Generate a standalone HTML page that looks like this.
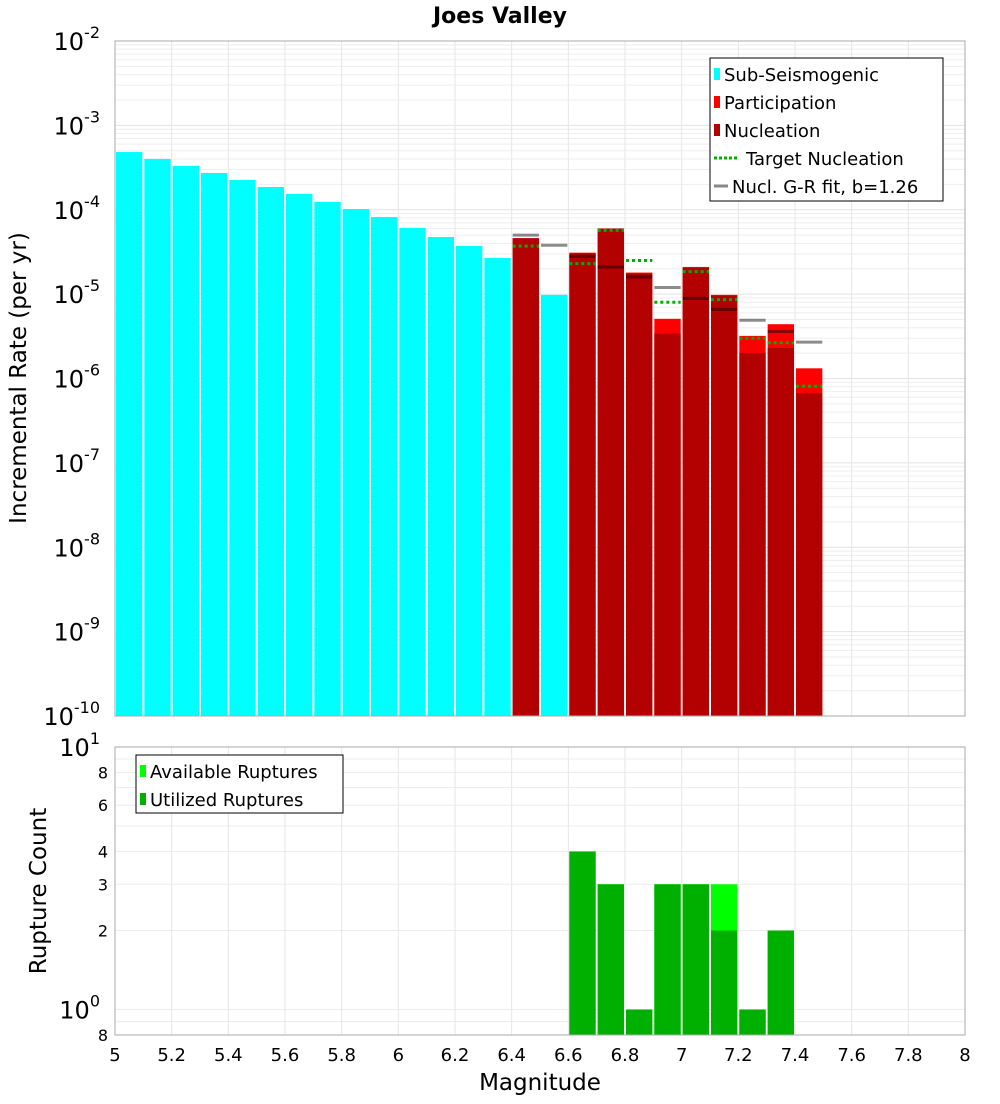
<!DOCTYPE html>
<html><head><meta charset="utf-8">
<style>
body{margin:0;background:#fff;font-family:"DejaVu Sans","Liberation Sans",sans-serif;}
</style></head>
<body>
<svg id="chart" width="1000" height="1100" xmlns="http://www.w3.org/2000/svg" font-family="DejaVu Sans, Liberation Sans, sans-serif">
<text x="500" y="23" text-anchor="middle" font-size="22" font-weight="bold">Joes Valley</text>
<g id="top"></g>
<g id="bot"></g>
<text transform="translate(26,378) rotate(-90)" text-anchor="middle" font-size="23">Incremental Rate (per yr)</text>
<text transform="translate(46,891) rotate(-90)" text-anchor="middle" font-size="23">Rupture Count</text>
<text x="540" y="1090" text-anchor="middle" font-size="23">Magnitude</text>
</svg>
<script>
const subMags=[5.05,5.15,5.25,5.35,5.45,5.55,5.65,5.75,5.85,5.95,6.05,6.15,6.25,6.35,6.55];
const subRates=[4.83e-4,4.0e-4,3.3e-4,2.73e-4,2.25e-4,1.86e-4,1.54e-4,1.24e-4,1.02e-4,8.2e-5,6.1e-5,4.75e-5,3.72e-5,2.68e-5,9.8e-6];
const supMags=[6.45,6.65,6.75,6.85,6.95,7.05,7.15,7.25,7.35,7.45];
const partRates=[4.6e-5,3.1e-5,6.0e-5,1.8e-5,5.1e-6,2.1e-5,9.8e-6,3.2e-6,4.4e-6,1.32e-6];
const nuclRates=[4.6e-5,3.05e-5,6.0e-5,1.75e-5,3.4e-6,2.05e-5,9.6e-6,2.0e-6,2.3e-6,6.7e-7];
const targetMags=[6.45,6.65,6.75,6.85,6.95,7.05,7.15,7.25,7.35,7.45];
const targetRates=[3.7e-5,2.3e-5,5.7e-5,2.5e-5,8.0e-6,1.85e-5,8.6e-6,3.0e-6,2.65e-6,8.1e-7];
const grMags=[6.45,6.55,6.65,6.75,6.85,6.95,7.05,7.15,7.25,7.35,7.45];
const grRates=[5.0e-5,3.8e-5,2.8e-5,2.1e-5,1.6e-5,1.2e-5,8.9e-6,6.6e-6,4.9e-6,3.6e-6,2.7e-6];
const cntMags=[6.65,6.75,6.85,6.95,7.05,7.15,7.25,7.35];
const availCounts=[4,3,1,3,3,3,1,2];
const usedCounts=[4,3,1,3,3,2,1,2];
const xTicks=[5,5.2,5.4,5.6,5.8,6,6.2,6.4,6.6,6.8,7,7.2,7.4,7.6,7.8,8];
const xTickLabels=["5","5.2","5.4","5.6","5.8","6","6.2","6.4","6.6","6.8","7","7.2","7.4","7.6","7.8","8"];
const topExps=[-2,-3,-4,-5,-6,-7,-8,-9,-10];
const botTicks=[10,8,6,4,3,2,1,0.8];
const botTickLabels=["10^1","8","6","4","3","2","10^0","8"];

const NS="http://www.w3.org/2000/svg";
const L=115,R=965,T1=41,B1=716,T2=747,B2=1035;
const X=m=>L+(m-5)/3*(R-L);
const Y1=v=>T1+(-2-Math.log10(v))/8*(B1-T1);
const Y2=v=>B2-(Math.log10(v)-Math.log10(0.8))/(1-Math.log10(0.8))*(B2-T2);
function mk(p,tag,at){const e=document.createElementNS(NS,tag);for(const k in at)e.setAttribute(k,at[k]);p.appendChild(e);return e;}
const gTop=document.getElementById('top'),gBot=document.getElementById('bot');
const svgRoot=document.getElementById('chart');
const bw=(R-L)/30;
for(let d=-10;d<-2;d++)for(let k=1;k<10;k++){const y=Y1(k*Math.pow(10,d));const l=mk(gTop,'line',{x1:L,x2:R,y1:y,y2:y,stroke:k==1?'#e2e2e2':'#eeeeee','stroke-width':1});

}
[0.8,0.9,1,2,3,4,5,6,7,8,9,10].forEach(v=>{const y=Y2(v);const l=mk(gBot,'line',{x1:L,x2:R,y1:y,y2:y,stroke:'#ececec'});

});
xTicks.forEach((t,i)=>{[[gTop,T1,B1],[gBot,T2,B2]].forEach(([g,a,b])=>{const l=mk(g,'line',{x1:X(t),x2:X(t),y1:a,y2:b,stroke:'#e6e6e6'});

});
 const tx=mk(svgRoot,'text',{x:X(t),y:1061,'text-anchor':'middle','font-size':18});tx.textContent=xTickLabels[i];
 
 });
function bar(g,m,y,base,fill,name){const r=mk(g,'rect',{x:X(m)-bw/2+1,y:y,width:bw-2,height:Math.max(0,base-y),fill:fill});

}
subMags.forEach((m,i)=>bar(gTop,m,Y1(subRates[i]),B1,'#00ffff','sub-seismogenic-bar'));
supMags.forEach((m,i)=>bar(gTop,m,Y1(partRates[i]),B1,'#ff0000','participation-bar'));
supMags.forEach((m,i)=>bar(gTop,m,Y1(nuclRates[i]),B1,'#b30000','nucleation-bar'));
grMags.forEach((m,i)=>{const y=Y1(grRates[i]);const l=mk(gTop,'line',{x1:X(m)-bw/2+1,x2:X(m)+bw/2-1,y1:y,y2:y,stroke:'#000','stroke-opacity':0.45,'stroke-width':3});

});
targetMags.forEach((m,i)=>{const y=Y1(targetRates[i]);const l=mk(gTop,'line',{x1:X(m)-bw/2+1,x2:X(m)+bw/2-1,y1:y,y2:y,stroke:'#00b000','stroke-width':3,'stroke-dasharray':'3,3'});

});
cntMags.forEach((m,i)=>bar(gBot,m,Y2(availCounts[i]),B2,'#00ff00','available-ruptures-bar'));
cntMags.forEach((m,i)=>bar(gBot,m,Y2(usedCounts[i]),B2,'#00b000','utilized-ruptures-bar'));
[[gTop,T1,B1],[gBot,T2,B2]].forEach(([g,a,b])=>{const r=mk(g,'rect',{x:L,y:a,width:R-L,height:b-a,fill:'none',stroke:'#aaaaaa'});

});
function sup(g,x,y,base,exp){const t=mk(g,'text',{x:x,y:y,'text-anchor':'end','font-size':24});


t.textContent=base;const s=mk(t,'tspan',{dy:-12,'font-size':16});s.textContent=exp;}
topExps.forEach(e=>sup(gTop,100,Y1(Math.pow(10,e))+9,'10',String(e)));
botTicks.forEach((v,i)=>{const lab=botTickLabels[i];if(lab.includes('^')){const p=lab.split('^');sup(gBot,100,Y2(v)+9,p[0],p[1]);}else{const t=mk(gBot,'text',{x:108,y:Y2(v)+6,'text-anchor':'end','font-size':16});t.textContent=lab;

}});
function legend(g,x,y,w,h,items){const lg=mk(g,'g',{});


 mk(lg,'rect',{x:x,y:y,width:w,height:h,fill:'#fff',stroke:'#000'});
 items.forEach((it,i)=>{const cy=y+16+i*28;const e=mk(lg,'g',{});
  
  
  let tx;
  if(it[2]=='box'){mk(e,'rect',{x:x+4,y:cy-6,width:6,height:12,fill:it[1]});tx=x+14;}
  else if(it[2]=='dot'){mk(e,'line',{x1:x+4,x2:x+28,y1:cy,y2:cy,stroke:it[1],'stroke-width':3,'stroke-dasharray':'3,2'});tx=x+36;}
  else{mk(e,'line',{x1:x+4,x2:x+18,y1:cy,y2:cy,stroke:it[1],'stroke-width':3});tx=x+22;}
  const t=mk(e,'text',{x:tx,y:cy+7,'font-size':18});t.textContent=it[0];});}
legend(gTop,710,58,233,143,[['Sub-Seismogenic','#00ffff','box'],['Participation','#ff0000','box'],['Nucleation','#b30000','box'],['Target Nucleation','#00b000','dot'],['Nucl. G-R fit, b=1.26','#888888','gr']]);
legend(gBot,136,755,207,58,[['Available Ruptures','#00ff00','box'],['Utilized Ruptures','#00b000','box']]);
</script>
</body></html>
